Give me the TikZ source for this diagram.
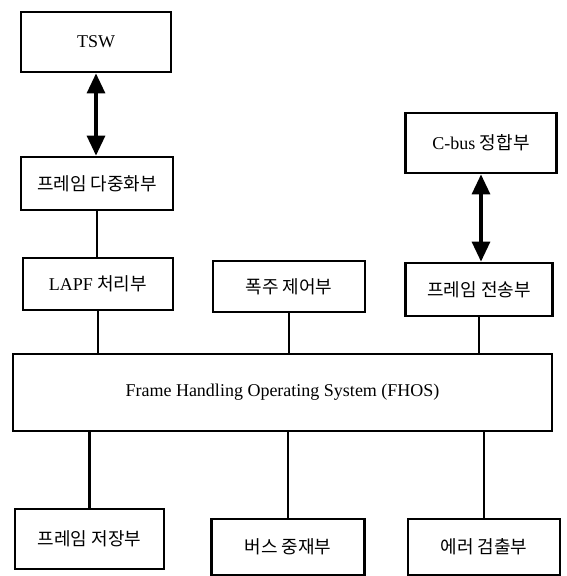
\documentclass[tikz,border=0pt]{standalone}
\usepackage{fontspec}
\setmainfont{Liberation Serif}
\newfontfamily\kor{Noto Sans CJK KR}
\usetikzlibrary{
    positioning,
    arrows.meta,
}

\begin{document}
\begin{tikzpicture}[
    x=1pt, y=-1pt,
    block/.style={draw, rectangle, line width=2.8pt, text centered,
                  minimum width=150pt, minimum height=54pt, inner sep=0pt,
                  font=\fontsize{18}{21}\selectfont},
    link/.style={line width=2.6pt},
    duplex/.style={line width=3.2pt,
                   {Triangle[width=18pt,length=20pt]}-{Triangle[width=18pt,length=20pt]}}
]
\useasboundingbox (0,0) rectangle (567,576);

\node[block, minimum height=60pt] (tsw) at (96,42) {TSW};
\node[block, minimum width=152pt, minimum height=53pt] (mux) at (97,183.5) {\kor 프레임 다중화부};
\node[block, minimum width=151pt, minimum height=60pt] (cbus) at (481,143) {C-bus {\kor 정합부}};

\node[block, minimum height=52pt] (lapf) at (98,284) {LAPF {\kor 처리부}};
\node[block, minimum width=152pt, minimum height=51pt] (congest) at (289,286.5) {\kor 폭주 제어부};
\node[block, minimum width=147pt, minimum height=53pt] (send) at (479,289.5) {\kor 프레임 전송부};

\node[block, minimum width=539pt, minimum height=77pt] (fhos) at (282.5,392.5)
    {Frame Handling Operating System (FHOS)};

\node[block, minimum width=149pt, minimum height=60pt] (store) at (89.5,539) {\kor 프레임 저장부};
\node[block, minimum width=153pt, minimum height=56pt] (arbiter) at (288,547) {\kor 버스 중재부};
\node[block, minimum width=152pt, minimum height=56pt] (error) at (484,547) {\kor 에러 검출부};

\draw[duplex] (tsw.south) -- (tsw.south |- mux.north);
\draw[duplex] (cbus.south) -- (cbus.south |- send.north);
\draw[link] (mux.south) -- (mux.south |- lapf.north);

\draw[link] (lapf.south) -- (lapf.south |- fhos.north);
\draw[link] (congest.south) -- (congest.south |- fhos.north);
\draw[link] (send.south) -- (send.south |- fhos.north);

\draw[link] (store.north) -- (store.north |- fhos.south);
\draw[link] (arbiter.north) -- (arbiter.north |- fhos.south);
\draw[link] (error.north) -- (error.north |- fhos.south);

\end{tikzpicture}
\end{document}
